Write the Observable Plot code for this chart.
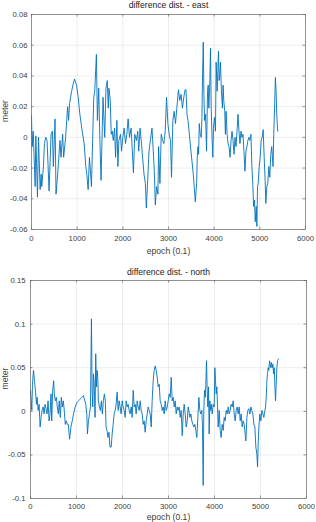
<!DOCTYPE html>
<html>
<head>
<meta charset="utf-8">
<script src="https://cdn.jsdelivr.net/npm/d3@7"></script>
<script src="https://cdn.jsdelivr.net/npm/@observablehq/plot@0.6"></script>
<style>
  html, body { margin: 0; padding: 0; background: #fff; }
  #chart svg { display: block; }
</style>
</head>
<body>
<div id="chart"></div>
<script>
// ---- data ----
const xTicks = [0, 1000, 2000, 3000, 4000, 5000, 6000];
const eastTitle = "difference dist. - east";
const northTitle = "difference dist. - north";
const xLabel = "epoch (0.1)";
const yLabel = "meter";
const eastTicks = [-0.06, -0.04, -0.02, 0, 0.02, 0.04, 0.06, 0.08];
const northTicks = [-0.1, -0.05, 0, 0.05, 0.1, 0.15];

const eastEpoch = [
  0,15,37,80,95,131,153,189,211,225,261,283,312,341,385,428,457,479,515,537,
  573,624,646,682,704,747,791,812,834,878,914,943,986,1023,1059,1110,1153,1189,1211,1240,
  1269,1313,1363,1385,1421,1443,1472,1494,1523,1566,1603,1631,
  1659,1681,1696,1725,1746,1768,1790,1819,1841,1870,1891,1913,1949,1971,2000,2029,2058,2087,2116,2145,
  2181,2203,2232,2261,2297,2326,2348,2377,2406,2435,2464,2493,2515,2544,2573,2602,2638,2667,2689,2711,
  2740,2769,2783,2812,2841,2870,2899,2928,2957,2986,3015,3044,3066,3095,3124,3153,3182,3218,3247,3276,
  3305,3334,3363,
  3383,3405,3427,3492,3543,3587,3616,3630,3645,3659,3674,3695,3717,3732,3746,3761,3775,3790,3811,3833,
  3855,3869,3884,3906,3920,3935,3956,3971,3985,4007,4029,4043,4065,4080,4094,4109,4123,4138,4159,4181,
  4196,4210,4232,4246,4261,4283,4304,4326,4348,4370,4391,4413,4435,4457,4478,4500,4522,4544,4565,4587,
  4609,4631,4652,4674,4696,4718,4739,4761,4783,4805,4826,4848,4863,4884,4899,4921,4935,4950,4964,4986,
  5008,5029,5051,5073,5095,5116,5131,5153,5174,5196,5218,5240,5261,5276,5290,5305,5327,5341,5356,5370,
  5392
];
const eastValue = [
  0.014,-0.006,0.004,-0.032,0.001,-0.039,0.000,-0.034,-0.024,-0.032,-0.019,-0.004,0.000,-0.002,-0.035,0.002,0.004,-0.019,0.012,-0.037,
  -0.024,-0.002,-0.013,0.002,-0.013,0.000,0.020,0.011,0.022,0.030,0.035,0.038,0.034,0.026,0.015,0.004,-0.004,-0.019,-0.024,-0.034,
  -0.013,-0.032,0.026,0.030,0.054,0.011,0.032,0.002,-0.028,0.026,0.000,0.032,
  0.037,0.019,0.032,0.024,0.002,0.004,-0.002,0.006,-0.013,0.011,-0.019,-0.002,0.002,-0.009,0.000,0.006,-0.004,0.002,0.012,0.000,
  0.006,-0.006,-0.023,0.002,-0.002,0.004,-0.009,0.006,-0.003,-0.014,-0.024,-0.030,-0.046,-0.028,-0.009,-0.002,0.006,-0.009,-0.022,-0.044,
  -0.032,-0.037,-0.006,-0.030,0.002,-0.002,-0.004,0.004,0.026,0.009,0.002,-0.002,-0.026,0.011,0.017,0.009,0.019,0.031,0.024,0.028,
  0.019,0.026,0.031,
  0.031,0.015,0.011,-0.009,-0.024,-0.042,-0.030,-0.013,-0.006,-0.011,0.009,0.002,0.000,0.013,0.041,0.062,0.028,0.011,0.015,-0.009,
  0.030,0.034,0.019,0.037,0.058,0.019,-0.002,-0.013,0.006,0.013,0.004,0.049,0.030,0.043,0.056,0.037,0.041,0.049,0.030,0.019,
  0.034,0.024,0.017,0.002,0.017,0.002,-0.004,-0.006,-0.013,-0.002,0.004,-0.002,-0.011,0.000,-0.006,0.004,0.015,0.004,-0.004,0.004,
  0.000,0.002,-0.009,-0.022,-0.009,-0.006,-0.002,0.000,-0.002,0.002,-0.019,-0.032,-0.045,-0.041,-0.055,-0.045,-0.058,-0.032,-0.030,-0.019,
  -0.013,-0.002,0.000,0.005,-0.013,-0.028,-0.043,-0.032,-0.030,-0.019,-0.026,-0.011,-0.006,-0.013,-0.019,0.002,0.024,0.039,0.030,0.015,
  0.004
];

const northEpoch = [
  0,14,29,43,65,86,108,130,144,166,187,209,230,252,274,295,317,338,360,382,
  403,425,446,461,482,504,518,540,562,583,605,626,648,670,691,713,734,756,778,799,
  821,850,878,907,936,972,1008,1044,1080,1116,1152,1181,1202,1224,1238,1260,1282,1303,1325,1339,
  1354,1368,1382,1404,1418,1433,1447,1462,1476,1498,1519,1541,1562,1584,1606,1627,1642,1663,1685,1706,
  1728,
  1754,1775,1797,1819,1841,1862,1884,1906,1928,1949,1971,1993,2015,2036,2058,2080,2102,2123,2145,2167,
  2189,2210,2232,2254,2276,2297,2319,2341,2363,2384,2406,2428,2450,2471,2493,2515,2537,2558,2580,2602,
  2624,2645,2667,2689,2711,2732,2754,2776,2798,2819,2841,2863,2885,2906,2928,2950,2972,2993,3015,3037,
  3059,3080,3102,3124,3146,3167,3189,3211,3233,3254,3276,3298,3320,3341,3363,3385,3407,3428,
  3442,3464,3486,3507,3529,3551,3573,3594,3616,3638,3660,3681,3703,3725,3739,3754,3768,3783,3797,3812,
  3826,3841,3855,3870,3884,3899,3913,3928,3950,3971,3993,4008,4022,4037,4051,4066,4080,4102,4124,4145,
  4167,4189,4211,4232,4254,4276,4298,4319,4341,4363,4385,4406,4428,4450,4472,4493,4515,4537,4559,4580,
  4602,4624,4646,4667,4682,4704,4725,4747,4769,4791,4812,4834,4856,4878,4899,4921,4936,4950,4965,4986,
  5008,5030,5052,5073,5095,5110,5124,5139,5153,5168,5182,5197,5211,5226,5240,5255,5269,5284,5298,5313,
  5327,5341,5356,5371,5392
];
const northValue = [
  0.024,0.012,0.001,0.031,0.047,0.035,0.024,0.008,0.016,0.001,0.008,-0.018,-0.007,0.001,0.005,-0.003,0.008,0.003,-0.003,0.012,
  -0.011,-0.003,0.020,-0.011,0.024,0.035,0.020,0.012,0.016,0.005,-0.003,0.012,-0.007,0.016,0.005,0.012,0.001,-0.015,-0.011,-0.015,
  -0.015,-0.032,-0.018,-0.011,-0.003,0.005,0.010,0.012,0.014,0.016,0.018,0.012,0.008,-0.003,-0.026,-0.011,-0.003,0.005,0.106,0.024,
  0.005,0.043,0.035,-0.007,0.066,0.028,0.047,0.039,0.012,0.005,0.001,0.012,-0.003,0.012,0.020,0.012,-0.018,-0.022,-0.030,-0.024,
  -0.041,
  -0.041,-0.026,-0.015,-0.003,0.001,0.008,0.022,0.001,0.012,0.005,-0.003,0.012,0.005,0.001,-0.007,0.012,0.005,0.008,0.001,-0.003,
  0.005,-0.007,0.024,0.005,0.008,-0.003,0.012,0.005,0.001,0.012,0.001,-0.003,-0.015,-0.011,-0.024,-0.011,-0.003,0.005,0.001,-0.003,
  -0.018,0.012,0.035,0.047,0.052,0.047,0.039,0.028,0.031,0.012,0.008,0.001,0.005,-0.003,0.012,0.001,0.005,0.012,0.020,0.016,
  0.039,0.012,0.016,0.005,0.012,-0.003,0.005,0.001,0.005,-0.007,0.001,-0.028,-0.003,0.008,-0.003,-0.018,-0.011,0.005,
  0.001,-0.007,-0.003,-0.011,-0.015,-0.018,-0.015,-0.022,-0.030,-0.007,0.016,0.001,-0.003,0.001,-0.018,-0.085,0.001,0.024,0.016,0.031,
  0.058,0.024,0.005,0.028,-0.026,0.012,0.001,0.008,-0.003,0.008,0.005,0.050,0.035,0.020,0.028,0.005,-0.018,0.001,-0.022,-0.030,
  -0.015,-0.022,-0.007,-0.011,0.001,-0.003,0.005,-0.003,0.001,0.008,0.005,0.012,-0.003,-0.011,0.001,0.005,-0.003,0.005,-0.011,-0.003,
  -0.018,-0.011,-0.015,-0.026,-0.034,-0.007,0.001,0.003,-0.003,0.005,0.001,-0.003,-0.015,-0.018,-0.041,-0.049,-0.064,-0.037,-0.018,-0.003,
  -0.011,0.001,-0.003,-0.007,0.001,0.005,0.016,0.035,0.043,0.050,0.047,0.058,0.054,0.050,0.056,0.050,0.054,0.043,0.050,0.028,
  0.012,0.031,0.050,0.058,0.060
];

// ---- drawing ----
const fontFamily = '"Liberation Sans", Arial, Helvetica, sans-serif';
const lineColor = "#0072BD";
const textColor = "#404040";
const fmt = d => String(d);

function panel(o) {
  const data = o.epochs.map((e, i) => ({epoch: e, value: o.values[i]}));
  const fw = 316 - o.ml - o.mr;
  const fh = o.height - o.mt - o.mb;
  return Plot.plot({
    width: 316,
    height: o.height,
    marginTop: o.mt,
    marginBottom: o.mb,
    marginLeft: o.ml,
    marginRight: o.mr,
    style: {fontFamily, background: "#fff", overflow: "visible"},
    x: {domain: [0, 6000]},
    y: {domain: o.yDomain},
    marks: [
      Plot.gridX(xTicks, {stroke: "#000", strokeOpacity: 0.09, strokeWidth: 0.8}),
      Plot.gridY(o.yTicks, {stroke: "#000", strokeOpacity: 0.09, strokeWidth: 0.8}),
      // inward tick marks (MATLAB style)
      Plot.ruleX(xTicks, {x: d => d, insetTop: fh - 2.5, stroke: "#666", strokeWidth: 0.7}),
      Plot.ruleX(xTicks, {x: d => d, insetBottom: fh - 2.5, stroke: "#666", strokeWidth: 0.7}),
      Plot.ruleY(o.yTicks, {y: d => d, insetRight: fw - 2.5, stroke: "#666", strokeWidth: 0.7}),
      Plot.ruleY(o.yTicks, {y: d => d, insetLeft: fw - 2.5, stroke: "#666", strokeWidth: 0.7}),
      Plot.axisX(xTicks, {tickSize: 0, tickPadding: o.xPad, tickFormat: fmt, label: null, fontSize: 7.7, fill: textColor}),
      Plot.axisY(o.yTicks, {tickSize: 0, tickPadding: o.yPad, tickFormat: fmt, label: null, fontSize: 7.7, fill: textColor}),
      Plot.line(data, {x: "epoch", y: "value", stroke: lineColor, strokeWidth: 0.9}),
      Plot.frame({stroke: "#6a6a6a", strokeWidth: 0.7}),
      Plot.text([o.title], {text: d => d, frameAnchor: "top", lineAnchor: "middle", dy: o.titleDy, fontSize: 8.6, fill: "#1a1a1a"}),
      Plot.text([xLabel], {text: d => d, frameAnchor: "bottom", lineAnchor: "middle", dy: o.xlabelDy, fontSize: 8.6, fill: textColor}),
      Plot.text([yLabel], {text: d => d, frameAnchor: "left", lineAnchor: "middle", rotate: -90, dx: o.ylabelDx, fontSize: 8.6, fill: textColor})
    ]
  });
}

const chart = document.getElementById("chart");
chart.append(panel({
  epochs: eastEpoch, values: eastValue, title: eastTitle,
  yTicks: eastTicks, yDomain: [-0.06, 0.08],
  height: 260, mt: 14, mb: 31, ml: 31, mr: 11,
  xPad: 6, yPad: 4, titleDy: -9, xlabelDy: 22, ylabelDx: -26
}));
chart.append(panel({
  epochs: northEpoch, values: northValue, title: northTitle,
  yTicks: northTicks, yDomain: [-0.1, 0.15],
  height: 262, mt: 20, mb: 24, ml: 30, mr: 10,
  xPad: 5, yPad: 5, titleDy: -8, xlabelDy: 19, ylabelDx: -25
}));
</script>
</body>
</html>
